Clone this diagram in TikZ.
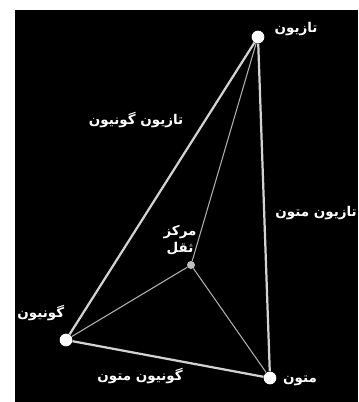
\documentclass[tikz,border=0pt]{standalone}
\usepackage{fontspec}
\newfontfamily\arabicfont[Script=Arabic]{DejaVu Sans}
\TeXXeTstate=1
\usetikzlibrary{positioning}
\definecolor{edgegray}{RGB}{210,210,210}
\definecolor{innergray}{RGB}{175,175,175}

\begin{document}
\begin{tikzpicture}[x=0.03cm,y=-0.03cm,
    vert/.style={circle,fill=white,inner sep=0pt,minimum size=0.38cm},
    lbl/.style={text=white,font=\arabicfont\bfseries\fontsize{11.5}{14}\selectfont,
                inner sep=1pt,align=center},
    side/.style={edgegray,line width=1.9pt},
    median/.style={innergray,line width=0.9pt}]

  \useasboundingbox (0,0) rectangle (358,402);
  \fill[white] (0,0) rectangle (358,402);
  \fill[black] (15,10) rectangle (358,402);

  % vertices and centre of mass
  \node[vert] (taz) at (258,37) {};
  \node[vert] (gon) at (66,340) {};
  \node[vert] (mat) at (270,378) {};
  \node[circle,fill=innergray!80!white,inner sep=0pt,minimum size=0.24cm] (cen) at (191,265) {};

  \draw[side] (taz) -- (gon);
  \draw[side] (taz) -- (mat);
  \draw[side] (gon) -- (mat);
  \draw[median] (cen) -- (taz);
  \draw[median] (cen) -- (gon);
  \draw[median] (cen) -- (mat);

  % labels
  \node[lbl] (taztxt) at (296,29) {\beginR تازیون\endR};
  \node[lbl,anchor=west] (gontxt) at (16,313) {\beginR گونیون\endR};
  \node[lbl] (mattxt) at (300,381) {\beginR متون\endR};
  \node[lbl] (tgtxt) at (136,120) {\beginR تازیون گونیون\endR};
  \node[lbl,anchor=west] (tmtxt) at (274,213) {\beginR تازیون متون\endR};
  \node[lbl] (gmtxt) at (140,376) {\beginR گونیون متون\endR};
  \node[lbl] (centxt) at (180,240) {\beginR مرکز\endR\\\beginR ثقل\endR};
\end{tikzpicture}
\end{document}
